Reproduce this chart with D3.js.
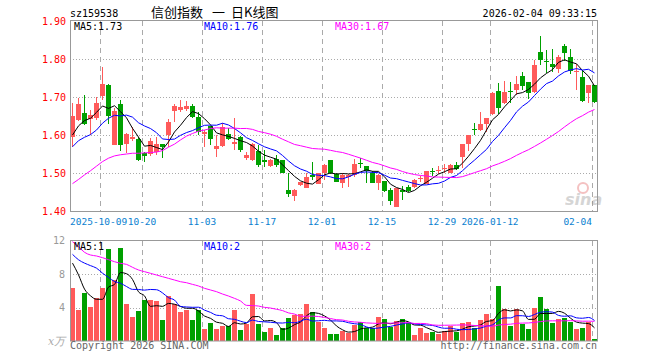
<!DOCTYPE html>
<html>
<head>
<meta charset="utf-8">
<script src="https://cdn.jsdelivr.net/npm/d3@7"></script>
<style>
  body { margin: 0; background: #fff; }
  svg { display: block; font-family: 'DejaVu Sans Mono', monospace; font-size: 10px; }
</style>
</head>
<body>
<svg id="chart" width="660" height="360"></svg>
<script>
const code = 'sz159538'
const titleParts = ['信创指数', '一', '日K线图']
const stamp = '2026-02-04 09:33:15'

const dates = [
  '2025-09-24', '2025-09-25', '2025-09-26', '2025-09-29', '2025-09-30',
  '2025-10-09', '2025-10-10', '2025-10-13', '2025-10-14', '2025-10-15', '2025-10-16', '2025-10-17',
  '2025-10-20', '2025-10-21', '2025-10-22', '2025-10-23', '2025-10-24',
  '2025-10-27', '2025-10-28', '2025-10-29', '2025-10-30', '2025-10-31',
  '2025-11-03', '2025-11-04', '2025-11-05', '2025-11-06', '2025-11-07',
  '2025-11-10', '2025-11-11', '2025-11-12', '2025-11-13', '2025-11-14',
  '2025-11-17', '2025-11-18', '2025-11-19', '2025-11-20', '2025-11-21',
  '2025-11-24', '2025-11-25', '2025-11-26', '2025-11-27', '2025-11-28',
  '2025-12-01', '2025-12-02', '2025-12-03', '2025-12-04', '2025-12-05',
  '2025-12-08', '2025-12-09', '2025-12-10', '2025-12-11', '2025-12-12',
  '2025-12-15', '2025-12-16', '2025-12-17', '2025-12-18', '2025-12-19',
  '2025-12-22', '2025-12-23', '2025-12-24', '2025-12-25', '2025-12-26',
  '2025-12-29', '2025-12-30', '2025-12-31',
  '2026-01-05', '2026-01-06', '2026-01-07', '2026-01-08', '2026-01-09',
  '2026-01-12', '2026-01-13', '2026-01-14', '2026-01-15', '2026-01-16',
  '2026-01-19', '2026-01-20', '2026-01-21', '2026-01-22', '2026-01-23',
  '2026-01-26', '2026-01-27', '2026-01-28', '2026-01-29', '2026-01-30',
  '2026-02-02', '2026-02-03', '2026-02-04',
]

const opens = [
  1.594, 1.641, 1.657, 1.642, 1.645, 1.703, 1.732, 1.575, 1.682, 1.576,
  1.590, 1.590, 1.553, 1.550, 1.553, 1.576, 1.600, 1.664, 1.664, 1.668,
  1.676, 1.648, 1.604, 1.624, 1.562, 1.571, 1.603, 1.576, 1.596, 1.539,
  1.534, 1.559, 1.534, 1.517, 1.536, 1.534, 1.455, 1.438, 1.466, 1.462,
  1.495, 1.473, 1.501, 1.534, 1.497, 1.473, 1.492, 1.495, 1.526, 1.518,
  1.501, 1.475, 1.479, 1.454, 1.411, 1.454, 1.464, 1.464, 1.483, 1.473,
  1.505, 1.506, 1.510, 1.499, 1.521, 1.541, 1.576, 1.617, 1.613, 1.629,
  1.655, 1.716, 1.685, 1.716, 1.718, 1.754, 1.740, 1.714, 1.818, 1.794,
  1.787, 1.775, 1.835, 1.804, 1.766, 1.752, 1.711, 1.732,
]
const highs = [
  1.683, 1.698, 1.705, 1.665, 1.700, 1.780, 1.734, 1.670, 1.692, 1.606,
  1.620, 1.596, 1.556, 1.591, 1.596, 1.576, 1.641, 1.682, 1.692, 1.690,
  1.682, 1.661, 1.613, 1.624, 1.600, 1.631, 1.618, 1.646, 1.598, 1.556,
  1.578, 1.574, 1.561, 1.536, 1.547, 1.534, 1.499, 1.457, 1.477, 1.499,
  1.530, 1.501, 1.525, 1.534, 1.499, 1.499, 1.497, 1.536, 1.539, 1.518,
  1.504, 1.497, 1.479, 1.460, 1.460, 1.466, 1.468, 1.483, 1.492, 1.506,
  1.512, 1.518, 1.525, 1.524, 1.530, 1.576, 1.600, 1.632, 1.661, 1.646,
  1.714, 1.738, 1.742, 1.740, 1.754, 1.767, 1.740, 1.797, 1.861, 1.824,
  1.825, 1.811, 1.839, 1.825, 1.788, 1.771, 1.732, 1.732,
]
const lows = [
  1.569, 1.637, 1.626, 1.600, 1.640, 1.692, 1.628, 1.574, 1.559, 1.552,
  1.585, 1.532, 1.530, 1.545, 1.547, 1.539, 1.569, 1.635, 1.661, 1.664,
  1.646, 1.600, 1.569, 1.574, 1.541, 1.569, 1.587, 1.561, 1.556, 1.534,
  1.532, 1.517, 1.517, 1.515, 1.517, 1.499, 1.436, 1.425, 1.466, 1.460,
  1.482, 1.471, 1.482, 1.497, 1.475, 1.460, 1.464, 1.490, 1.512, 1.473,
  1.475, 1.455, 1.451, 1.416, 1.410, 1.429, 1.451, 1.460, 1.477, 1.473,
  1.492, 1.497, 1.499, 1.499, 1.508, 1.512, 1.559, 1.600, 1.611, 1.609,
  1.653, 1.655, 1.682, 1.685, 1.705, 1.718, 1.696, 1.711, 1.784, 1.762,
  1.767, 1.762, 1.796, 1.761, 1.719, 1.688, 1.683, 1.684,
]
const closes = [
  1.650, 1.682, 1.629, 1.653, 1.684, 1.734, 1.650, 1.664, 1.575, 1.603,
  1.596, 1.534, 1.545, 1.585, 1.575, 1.569, 1.635, 1.676, 1.673, 1.676,
  1.648, 1.609, 1.609, 1.591, 1.571, 1.622, 1.589, 1.582, 1.561, 1.547,
  1.576, 1.521, 1.530, 1.534, 1.521, 1.501, 1.445, 1.455, 1.475, 1.490,
  1.489, 1.501, 1.521, 1.499, 1.477, 1.495, 1.496, 1.524, 1.523, 1.504,
  1.475, 1.495, 1.454, 1.425, 1.460, 1.450, 1.454, 1.482, 1.486, 1.506,
  1.503, 1.509, 1.513, 1.521, 1.510, 1.576, 1.600, 1.614, 1.629, 1.646,
  1.711, 1.670, 1.714, 1.713, 1.734, 1.727, 1.711, 1.784, 1.796, 1.792,
  1.778, 1.806, 1.817, 1.767, 1.769, 1.689, 1.732, 1.688,
]
// 成交量, 万手
const volumes = [
  6.32, 3.72, 5.72, 4.04, 5.10, 6.32, 11.0, 7.32, 11.12, 4.40,
  2.92, 3.60, 4.92, 4.84, 4.80, 2.52, 5.35, 4.44, 3.52, 3.72,
  2.52, 3.72, 1.44, 2.12, 1.44, 1.84, 1.84, 3.70, 1.32, 2.00,
  5.60, 2.00, 1.04, 1.60, 0.72, 1.60, 2.72, 3.12, 3.20, 4.40,
  3.44, 2.32, 1.60, 0.80, 0.80, 1.20, 0.92, 1.92, 2.32, 1.52,
  1.60, 2.84, 2.60, 1.72, 2.40, 2.60, 2.12, 0.72, 1.60, 0.92,
  1.12, 0.80, 1.20, 1.84, 1.12, 2.12, 2.24, 1.60, 2.52, 3.20,
  2.60, 6.52, 3.80, 1.80, 3.84, 2.04, 1.40, 3.92, 5.24, 3.80,
  2.12, 2.60, 2.80, 2.32, 1.44, 1.52, 2.32, 0.24,
]

// 均线开头几天要用到图外的数据, 这里直接读图
const ma5Head = [1.600, 1.624, 1.638, 1.644]
const ma10Head = [1.569, 1.585, 1.594, 1.601, 1.613, 1.631, 1.644, 1.652, 1.650]
const ma30Head = [
  1.472, 1.483, 1.495, 1.506, 1.518, 1.530, 1.539, 1.545, 1.548, 1.550,
  1.552, 1.552, 1.553, 1.554, 1.555, 1.559, 1.568, 1.576, 1.587, 1.597,
  1.604, 1.610, 1.613, 1.617, 1.619, 1.618, 1.618, 1.618, 1.617,
]
const volMa5Head = [9.3, 7.9, 6.2, 5.4]
const volMa10Head = [10.35, 9.7, 9.3, 9.0, 8.7, 8.1, 7.6, 7.1, 6.9]
const volMa30Head = [
  11.86, 11.26, 10.59, 10.27, 10.15, 9.95, 9.71, 9.47, 9.27, 9.15,
  8.80, 8.48, 8.28, 8.08, 7.88, 7.68, 7.48, 7.28, 7.08, 6.96,
  6.76, 6.57, 6.29, 6.09, 5.89, 5.61, 5.37, 5.09, 4.78,
]

const gridDates = ['2025-10-09', '2025-10-20', '2025-11-03', '2025-11-17', '2025-12-01',
  '2025-12-15', '2025-12-29', '2026-01-12', '2026-02-04']
const gridLabels = ['2025-10-09', '10-20', '11-03', '11-17', '12-01',
  '12-15', '12-29', '2026-01-12', '02-04']
const priceTicks = [1.4, 1.5, 1.6, 1.7, 1.8, 1.9]
const volumeTicks = [4, 8, 12]

const up = '#ff5a5a'
const down = '#00a000'
const maColors = ['#000', '#0000ff', '#ff00ff']

const left = 70
const right = 598

const svg = d3.select('#chart')

const x = d3.scaleBand()
    .domain(dates)
    .range([left, right])

const y = d3.scaleLinear()
    .domain([1.4, 1.9])
    .range([211, 21])

const yv = d3.scaleLinear()
    .domain([0, 12])
    .range([341, 240.5])

function movingAverage(values, n, head) {
  return values.map((v, i) => i < n - 1 ? head[i] : d3.mean(values.slice(i - n + 1, i + 1)))
}

const priceMa = [
  movingAverage(closes, 5, ma5Head),
  movingAverage(closes, 10, ma10Head),
  movingAverage(closes, 30, ma30Head),
]
const volumeMa = [
  movingAverage(volumes, 5, volMa5Head),
  movingAverage(volumes, 10, volMa10Head),
  movingAverage(volumes, 30, volMa30Head),
]

const gx = d => Math.round(x(d)) + 0.5
const cx = i => x(dates[i]) + 2.5

// 标题行
svg.append('text')
    .attr('x', left)
    .attr('y', 16.5)
    .text(code)

svg.append('text')
    .attr('y', 17)
    .style('font-family', "'Noto Sans CJK SC', sans-serif")
    .style('font-size', '13px')
  .selectAll('tspan')
  .data(titleParts)
  .join('tspan')
    .attr('x', (d, i) => [151, 212, 231][i])
    .text(d => d)

svg.append('text')
    .attr('x', 597)
    .attr('y', 16.5)
    .attr('text-anchor', 'end')
    .text(stamp)

// 网格
const grid = svg.append('g')

grid.selectAll('line.h')
  .data(priceTicks.slice(1, -1))
  .join('line')
    .attr('class', 'h')
    .attr('x1', left)
    .attr('x2', right)
    .attr('y1', d => Math.round(y(d)) + 0.5)
    .attr('y2', d => Math.round(y(d)) + 0.5)

grid.selectAll('line.hv')
  .data(volumeTicks.slice(0, -1))
  .join('line')
    .attr('class', 'hv')
    .attr('x1', left)
    .attr('x2', right)
    .attr('y1', d => Math.round(yv(d)) + 0.5)
    .attr('y2', d => Math.round(yv(d)) + 0.5)

grid.selectAll('line')
    .attr('stroke', '#aaa')
    .attr('stroke-dasharray', '1,2')

grid.selectAll('line.vp')
  .data(gridDates)
  .join('line')
    .attr('class', 'vp')
    .attr('x1', gx)
    .attr('x2', gx)
    .attr('y1', 21)
    .attr('y2', 211)
    .attr('stroke', '#aaa')
    .attr('stroke-dasharray', '5,4')

grid.selectAll('line.vv')
  .data(gridDates)
  .join('line')
    .attr('class', 'vv')
    .attr('x1', gx)
    .attr('x2', gx)
    .attr('y1', 241)
    .attr('y2', 341)
    .attr('stroke', '#aaa')
    .attr('stroke-dasharray', '5,4')

// 水印
const mark = svg.append('g')
    .attr('opacity', 0.35)

mark.append('circle')
    .attr('cx', 583)
    .attr('cy', 188)
    .attr('r', 5)
    .attr('fill', 'none')
    .attr('stroke', '#e05050')
    .attr('stroke-width', 2)

mark.append('text')
    .attr('x', 565)
    .attr('y', 205)
    .attr('fill', '#888')
    .style('font-family', 'DejaVu Sans, sans-serif')
    .style('font-size', '16px')
    .style('font-weight', 'bold')
    .style('font-style', 'italic')
    .text('sina')

// K线
const candles = svg.append('g')
  .selectAll('g')
  .data(dates)
  .join('g')
    .attr('fill', (d, i) => closes[i] >= opens[i] ? up : down)
    .attr('stroke', (d, i) => closes[i] >= opens[i] ? up : down)

candles.append('line')
    .attr('x1', (d, i) => cx(i))
    .attr('x2', (d, i) => cx(i))
    .attr('y1', (d, i) => Math.round(y(highs[i])))
    .attr('y2', (d, i) => Math.round(y(lows[i])))

candles.append('rect')
    .attr('stroke', 'none')
    .attr('x', d => x(d))
    .attr('width', x.bandwidth() - 1)
    .attr('y', (d, i) => Math.round(y(Math.max(opens[i], closes[i]))))
    .attr('height', (d, i) => Math.max(1, Math.round(Math.abs(y(opens[i]) - y(closes[i])))))

// 成交量
svg.append('g')
  .selectAll('rect')
  .data(dates)
  .join('rect')
    .attr('x', d => x(d))
    .attr('width', x.bandwidth() - 1)
    .attr('y', (d, i) => Math.round(yv(volumes[i])))
    .attr('height', (d, i) => 341 - Math.round(yv(volumes[i])))
    .attr('fill', (d, i) => closes[i] >= opens[i] ? up : down)

// 均线
const priceLine = d3.line()
    .x((d, i) => cx(i))
    .y(d => y(d))

const volumeLine = d3.line()
    .x((d, i) => cx(i))
    .y(d => yv(d))
    .curve(d3.curveMonotoneX)

svg.append('g')
  .selectAll('path')
  .data(priceMa)
  .join('path')
    .attr('d', priceLine)
    .attr('fill', 'none')
    .attr('stroke', (d, i) => maColors[i])

svg.append('g')
  .selectAll('path')
  .data(volumeMa)
  .join('path')
    .attr('d', volumeLine)
    .attr('fill', 'none')
    .attr('stroke', (d, i) => maColors[i])

// 边框
svg.append('rect')
    .attr('x', left + 0.5)
    .attr('y', 20.5)
    .attr('width', right - left - 1)
    .attr('height', 191)
    .attr('fill', 'none')
    .attr('stroke', '#999')

svg.append('rect')
    .attr('x', left + 0.5)
    .attr('y', 240.5)
    .attr('width', right - left - 1)
    .attr('height', 100.5)
    .attr('fill', 'none')
    .attr('stroke', '#999')

// 坐标轴文字
svg.append('g')
  .selectAll('text')
  .data(priceTicks)
  .join('text')
    .attr('x', 66)
    .attr('y', d => y(d) + 3.5)
    .attr('text-anchor', 'end')
    .attr('fill', '#f00')
    .text(d => d.toFixed(2))

svg.append('g')
  .selectAll('text')
  .data(volumeTicks)
  .join('text')
    .attr('x', 65)
    .attr('y', d => yv(d) + 3.5)
    .attr('text-anchor', 'end')
    .attr('fill', '#999')
    .text(d => d)

svg.append('text')
    .attr('x', 48)
    .attr('y', 345)
    .attr('fill', '#aaa')
    .style('font-family', 'DejaVu Serif, serif')
    .style('font-style', 'italic')
    .style('font-size', '11px')
    .text('x万')

// 第一个日期贴左边框, 最后一个贴右侧网格线
const lastTick = gridDates.length - 1
svg.append('g')
  .selectAll('text')
  .data(gridDates)
  .join('text')
    .attr('x', (d, i) => i === 0 ? left : Math.round(x(d)))
    .attr('y', 224.5)
    .attr('text-anchor', (d, i) => i === 0 ? 'start' : i === lastTick ? 'end' : 'middle')
    .attr('fill', '#0a7fd0')
    .style('font-size', '9.5px')
    .text((d, i) => gridLabels[i])

// 均线数值
const last = dates.length - 1
const maNames = ['MA5', 'MA10', 'MA30']
const labelX = [74, 204, 335]

svg.append('g')
  .selectAll('text')
  .data(priceMa)
  .join('text')
    .attr('x', (d, i) => labelX[i])
    .attr('y', 30)
    .attr('fill', (d, i) => maColors[i])
    .text((d, i) => `${maNames[i]}:${d[last].toFixed(2)}`)

svg.append('g')
  .selectAll('text')
  .data(volumeMa)
  .join('text')
    .attr('x', (d, i) => labelX[i])
    .attr('y', 250)
    .attr('fill', (d, i) => maColors[i])
    .text((d, i) => `${maNames[i]}:${Math.floor(d[last])}`)

svg.append('text')
    .attr('x', left)
    .attr('y', 348.5)
    .attr('fill', '#666')
    .text('Copyright 2026 SINA.COM')

svg.append('text')
    .attr('x', 597)
    .attr('y', 348.5)
    .attr('text-anchor', 'end')
    .attr('fill', '#666')
    .text('http://finance.sina.com.cn')
</script>
</body>
</html>
